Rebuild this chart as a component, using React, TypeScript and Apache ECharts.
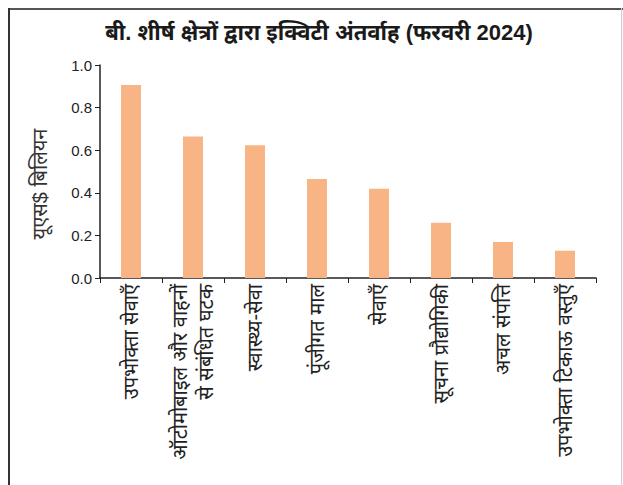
import React, { useEffect, useRef } from "react";
import * as echarts from "echarts";

const categories: string[] = [
  "उपभोक्ता सेवाएँ",
  "ऑटोमोबाइल और वाहनों\nसे संबंधित घटक",
  "स्वास्थ्य-सेवा",
  "पूंजीगत माल",
  "सेवाएँ",
  "सूचना प्रौद्योगिकी",
  "अचल संपत्ति",
  "उपभोक्ता टिकाऊ वस्तुएँ",
];
const values: number[] = [0.906, 0.664, 0.623, 0.465, 0.419, 0.259, 0.169, 0.128];
const yTicks = { min: 0, max: 1, interval: 0.2 };
const titleText = "बी. शीर्ष क्षेत्रों द्वारा इक्विटी अंतर्वाह (फरवरी 2024)";
const yAxisName = "यूएस$ बिलियन";

const FONT = "'Liberation Sans', 'Noto Sans', Arial, sans-serif";

export default function App() {
  const ref = useRef<HTMLDivElement>(null);
  useEffect(() => {
    document.body.style.margin = "0";
    const chart = echarts.init(ref.current!, null, { renderer: "svg" });
    chart.setOption({
      animation: false,
      backgroundColor: "#ffffff",
      title: {
        text: titleText,
        left: 314,
        textAlign: "center",
        top: 16,
        textStyle: { fontFamily: FONT, fontSize: 22, fontWeight: "bold", color: "#1a1a1a" },
      },
      graphic: [
        { type: "line", shape: { x1: 8, y1: 9, x2: 623, y2: 9 }, style: { stroke: "#555", lineWidth: 2 } },
        { type: "line", shape: { x1: 9, y1: 8, x2: 9, y2: 485 }, style: { stroke: "#333", lineWidth: 2 } },
        { type: "line", shape: { x1: 621.5, y1: 8, x2: 621.5, y2: 485 }, style: { stroke: "#ccc", lineWidth: 1 } },
        {
          type: "text",
          x: 40,
          y: 184,
          rotation: Math.PI / 2,
          style: {
            text: yAxisName,
            fontFamily: FONT,
            fontSize: 20,
            fill: "#333",
            align: "center",
            verticalAlign: "middle",
          },
        },
      ],
      grid: { left: 100, right: 27, top: 65, bottom: 207, containLabel: false },
      xAxis: {
        type: "category",
        data: categories,
        axisLine: { lineStyle: { color: "#222", width: 1.5 } },
        axisTick: { show: true, alignWithLabel: false, length: 5, lineStyle: { color: "#222" } },
        axisLabel: {
          rotate: 90,
          interval: 0,
          color: "#222",
          margin: 6,
          formatter: (v: string) =>
            v
              .split("\n")
              .map((s) => "{t|" + s + "}")
              .join("\n"),
          rich: {
            t: {
              fontFamily: FONT,
              fontSize: 20,
              color: "#222",
              lineHeight: 26,
            },
          },
        },
      },
      yAxis: {
        type: "value",
        min: yTicks.min,
        max: yTicks.max,
        interval: yTicks.interval,
        axisLine: { show: true, lineStyle: { color: "#222", width: 1.5 } },
        axisTick: { show: true, inside: false, length: 5, lineStyle: { color: "#222" } },
        splitLine: { show: false },
        axisLabel: {
          fontFamily: FONT,
          fontSize: 15,
          color: "#222",
          margin: 8,
          formatter: (v: number) => v.toFixed(1),
        },
      },
      series: [
        {
          type: "bar",
          data: values,
          barWidth: 20,
          itemStyle: { color: "#F8B484" },
        },
      ],
    });
    return () => chart.dispose();
  }, []);
  return <div ref={ref} style={{ width: 623, height: 485 }} />;
}
